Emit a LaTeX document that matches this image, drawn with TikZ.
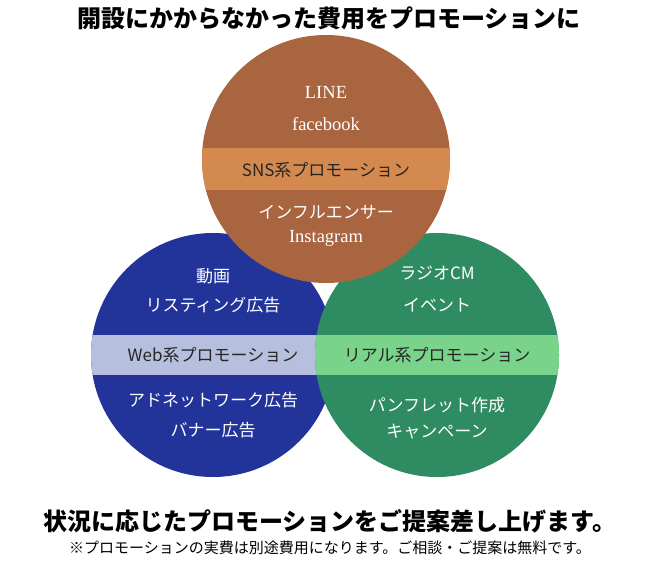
\documentclass[tikz,border=0pt]{standalone}
\usepackage{fontspec}
\setmainfont{Noto Sans CJK JP}
\newfontfamily\lat{Liberation Serif}
\begin{document}
\begin{tikzpicture}[x=1pt,y=-1pt,
  w/.style={text=white,font=\fontsize{17}{19}\selectfont},
  wl/.style={text=white,font=\lat\fontsize{18.5}{20}\selectfont},
  b/.style={text=black!85,font=\fontsize{17}{19}\selectfont}]
\useasboundingbox (0,0) rectangle (660,570);
\definecolor{brn}{HTML}{A86540}\definecolor{brnb}{HTML}{D4894F}
\definecolor{blu}{HTML}{22349A}\definecolor{blub}{HTML}{B7BFDE}
\definecolor{grn}{HTML}{2E8B62}\definecolor{grnb}{HTML}{79D38A}
% blue
\fill[blu] (213,355) circle (122);
\begin{scope}\clip (213,355) circle (122);\fill[blub] (80,335) rectangle (350,375);\end{scope}
% green
\fill[grn] (437,355) circle (122);
\begin{scope}\clip (437,355) circle (122);\fill[grnb] (300,335) rectangle (570,375);\end{scope}
% brown
\fill[brn] (326,159) circle (124);
\begin{scope}\clip (326,159) circle (124);\fill[brnb] (190,148) rectangle (460,190);\end{scope}
\node[font=\bfseries\fontsize{24}{26}\selectfont] (t) at (329,18) {開設にかからなかった費用をプロモーションに};
\node[wl] (a1) at (326,92) {LINE};
\node[wl] (a2) at (326,124) {facebook};
\node[b] (a3) at (326,170) {SNS系プロモーション};
\node[w] (a4) at (326,212) {インフルエンサー};
\node[wl] (a5) at (326,238) {Instagram};
\node[w] (b1) at (213,276) {動画};
\node[w] (b2) at (213,305) {リスティング広告};
\node[b] (b3) at (213,355) {Web系プロモーション};
\node[w] (b4) at (213,400) {アドネットワーク広告};
\node[w] (b5) at (213,430) {バナー広告};
\node[w] (c1) at (437,273) {ラジオCM};
\node[w] (c2) at (437,305) {イベント};
\node[b] (c3) at (437,355) {リアル系プロモーション};
\node[w] (c4) at (437,405) {パンフレット作成};
\node[w] (c5) at (437,432) {キャンペーン};
\node[font=\bfseries\fontsize{24}{26}\selectfont] (s1) at (330,521) {状況に応じたプロモーションをご提案差し上げます。};
\node[font=\fontsize{15}{16}\selectfont] (s2) at (330,548) {※プロモーションの実費は別途費用になります。ご相談・ご提案は無料です。};
\end{tikzpicture}
\end{document}
